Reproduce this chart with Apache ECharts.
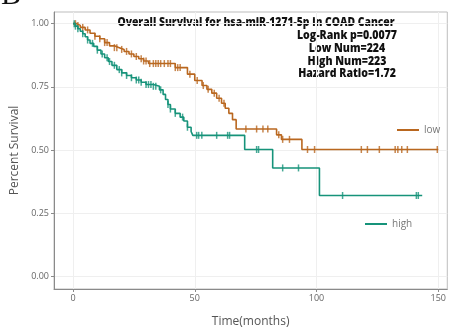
<!DOCTYPE html>
<html><head><meta charset="utf-8">
<script src="https://cdn.jsdelivr.net/npm/echarts@6/dist/echarts.min.js"></script>
<style>html,body{margin:0;padding:0;background:#fff}#c{width:449px;height:333px}</style>
</head><body><div id="c"></div>
<script>
const panelLetter = 'B';
const title = 'Overall Survival for hsa-miR-1271-5p in COAD Cancer';
const statLines = ['Log-Rank p=0.0077', 'Low Num=224', 'High Num=223', 'Hazard Ratio=1.72'];
const groupNames = ['low', 'high'];
const xTicks = [0, 50, 100, 150];
const yTicks = [0, 0.25, 0.5, 0.75, 1];
// [time, survival after event]
const lowSteps = [[0,1.0],[1.5,0.993],[3,0.985],[5,0.975],[7,0.962],[9,0.95],[11,0.94],[13,0.925],[15,0.912],[17,0.905],[19,0.898],[21,0.89],[23,0.88],[25,0.87],[27,0.861],[29,0.852],[31,0.842],[42,0.826],[47,0.80],[50,0.775],[53,0.755],[55,0.74],[57,0.725],[59,0.705],[61,0.685],[62.5,0.665],[64,0.645],[65.5,0.62],[67,0.583],[83.6,0.56],[85.6,0.542],[94,0.502],[150,0.502]];
const highSteps = [[0,1.0],[1,0.99],[2,0.98],[3,0.97],[4,0.96],[5,0.948],[6,0.935],[7,0.922],[8.5,0.91],[10,0.895],[11.5,0.88],[13,0.865],[14.5,0.85],[16,0.835],[18,0.818],[20,0.805],[22,0.795],[24,0.786],[26,0.777],[28,0.768],[30,0.759],[33,0.752],[35.5,0.738],[37,0.72],[38,0.70],[39,0.68],[40,0.662],[42,0.645],[44,0.63],[45.5,0.615],[47,0.59],[48.5,0.573],[49.2,0.558],[70.5,0.502],[82,0.429],[101.2,0.32],[143.4,0.32]];
const lowCensor = [1,2,4,6,9,11,13,14,17,18,20,22,24,26,28,29,30,31.5,33,34,35,36,37.5,39,40,42,43,44,48,51,53.5,55.5,58,60,62,71,75.4,78,80,84.5,86.1,88.9,96.3,99.2,118.4,120.9,125.8,132.3,133.4,135,137.3,149.6];
const highCensor = [0.5,1,2,4,6,8,10,12,14,15,17,19,20,22,24,26,27,28,30,31,32,33,34,36,39,40,42,45,47,50.8,51.6,52.9,59,63.5,64.3,75.4,76.2,86.1,92.6,110.7,141,141.8];

const lowColor = '#B9671F';
const highColor = '#16937A';

function survAt(steps, t) {
  let s = steps[0][1];
  for (const p of steps) { if (p[0] <= t) s = p[1]; else break; }
  return s;
}

const chart = echarts.init(document.getElementById('c'), null, {renderer: 'canvas'});
const axisGray = '#8a8a8a';
const txtStyle = {font: '800 12px "Open Sans"', fill: '#111', align: 'center', verticalAlign: 'middle'};
const statTexts = statLines.map((s, i) => ({
  type: 'text', x: 347, y: 35.5 + 12.8 * i, scaleX: 0.88,
  style: Object.assign({text: s}, txtStyle)
}));
chart.setOption({
  animation: false,
  backgroundColor: '#fff',
  grid: {left: 54, top: 12, width: 394, height: 284, show: true, borderColor: '#bdbdbd', borderWidth: 1},
  xAxis: {
    type: 'value', min: -7.8, max: 153.7,
    name: 'Time(months)', nameLocation: 'middle', nameGap: 27,
    nameTextStyle: {fontFamily: 'Open Sans', fontSize: 12, color: '#555'},
    axisLine: {show: true, onZero: false, lineStyle: {color: axisGray}},
    axisTick: {show: true, customValues: xTicks, length: 3, lineStyle: {color: axisGray}},
    axisLabel: {customValues: xTicks, fontFamily: 'Open Sans', fontSize: 9, color: '#666', margin: 5},
    splitLine: {show: true, lineStyle: {color: '#efefef'}}
  },
  yAxis: {
    type: 'value', min: -0.05, max: 1.046,
    name: 'Percent Survival', nameLocation: 'middle', nameGap: 30,
    nameTextStyle: {fontFamily: 'Open Sans', fontSize: 12, color: '#555'},
    axisLine: {show: true, onZero: false, lineStyle: {color: axisGray}},
    axisTick: {show: true, customValues: yTicks, length: 3, lineStyle: {color: axisGray}},
    axisLabel: {customValues: yTicks, formatter: v => v.toFixed(2), fontFamily: 'Open Sans', fontSize: 9, color: '#666', margin: 5},
    splitLine: {show: true, lineStyle: {color: '#efefef'}}
  },
  legend: [
    {data: [groupNames[0]], left: 397, top: 125, padding: 0, icon: 'rect', itemWidth: 22, itemHeight: 2, itemGap: 4,
     textStyle: {fontFamily: 'Open Sans', fontSize: 10, color: '#777'}},
    {data: [groupNames[1]], left: 365, top: 219, padding: 0, icon: 'rect', itemWidth: 22, itemHeight: 2, itemGap: 4,
     textStyle: {fontFamily: 'Open Sans', fontSize: 10, color: '#777'}}
  ],
  graphic: [
    {type: 'text', x: 1, y: -4, style: {text: panelLetter, font: '30px "Liberation Serif"', fill: '#111', align: 'left', verticalAlign: 'middle'}},
    {type: 'text', x: 256, y: 23, scaleX: 0.86, style: Object.assign({text: title}, txtStyle)}
  ].concat(statTexts),
  series: [
    {name: groupNames[0], type: 'line', step: 'end', data: lowSteps, symbol: 'none', color: lowColor,
     lineStyle: {width: 1.6, color: lowColor}},
    {name: groupNames[1], type: 'line', step: 'end', data: highSteps, symbol: 'none', color: highColor,
     lineStyle: {width: 1.6, color: highColor}},
    {name: 'low-censor', type: 'scatter', data: lowCensor.map(t => [t, survAt(lowSteps, t)]),
     symbol: 'rect', symbolSize: [1.5, 7], itemStyle: {color: lowColor}},
    {name: 'high-censor', type: 'scatter', data: highCensor.map(t => [t, survAt(highSteps, t)]),
     symbol: 'rect', symbolSize: [1.5, 7], itemStyle: {color: highColor}}
  ]
});
</script></body></html>
